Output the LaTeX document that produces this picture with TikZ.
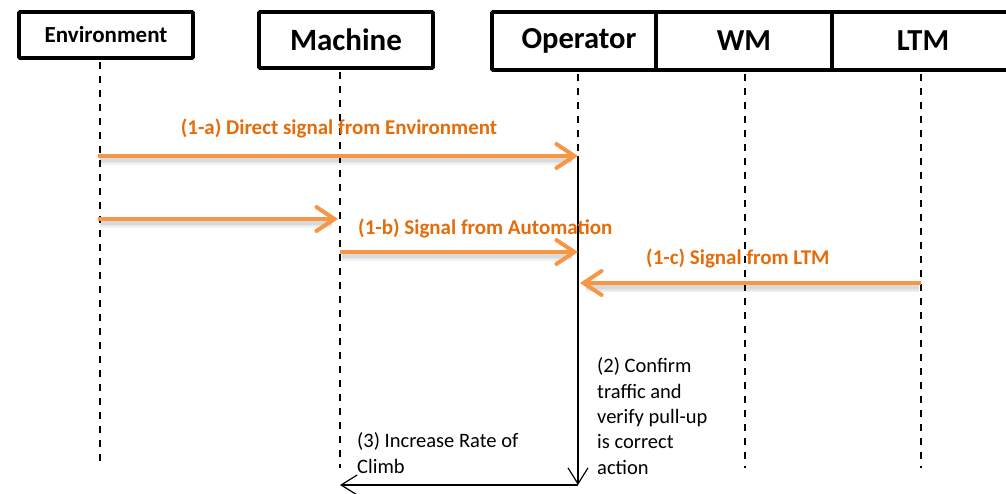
\documentclass[tikz,border=0pt]{standalone}
\usepackage{fontspec}
\setmainfont{Carlito}
\usetikzlibrary{arrows.meta}
\definecolor{sigline}{HTML}{F79646}
\definecolor{sigtext}{HTML}{E46C0A}
\begin{document}
\begin{tikzpicture}[x=1pt,y=-1pt,
  actor/.style={draw=black,line width=3.6pt,rounded corners=1pt,inner sep=0pt,font=\bfseries\fontsize{30.5}{34}\selectfont},
  lifeline/.style={draw=black,line width=1.6pt,dash pattern=on 7pt off 7pt},
  signal/.style={draw=sigline,line width=4pt,-{Straight Barb[length=18pt,width=24pt,line cap=round]}},
  shade/.style={draw=black,opacity=0.05,line width=#1},
  siglabel/.style={text=sigtext,font=\bfseries\fontsize{21}{25}\selectfont,inner sep=0pt},
  note/.style={font=\fontsize{20.5}{25.3}\selectfont,align=left,inner sep=0pt},
  reply/.style={draw=black,line width=1.5pt,-{Straight Barb[length=16pt,width=20pt,line width=1.2pt]}}]
\useasboundingbox (0,0) rectangle (1006,494);

% actor boxes
\node[actor,minimum width=174pt,minimum height=46pt,font=\bfseries\fontsize{23}{27}\selectfont] (env) at (106,35) {Environment};
\node[actor,minimum width=174pt,minimum height=56pt,font=\bfseries\fontsize{31}{34}\selectfont] (mach) at (346,40) {Machine};
\node[actor,minimum width=164pt,minimum height=58pt] (op) at (574,41) {\hspace{10pt}Operator};
\node[actor,minimum width=176pt,minimum height=58pt] (wm) at (744,41) {WM};
\node[actor,minimum width=182pt,minimum height=58pt] (ltm) at (923,41) {LTM};

% lifeline ends
\coordinate (envT) at (100,62);  \coordinate (envB) at (100,468);
\coordinate (machT) at (340,72); \coordinate (machB) at (340,468);
\coordinate (opT) at (578,74);   \coordinate (opB) at (578,468);
\coordinate (wmT) at (745,74);   \coordinate (wmB) at (745,468);
\coordinate (ltmT) at (921,74);  \coordinate (ltmB) at (921,468);

\draw[lifeline] (envT) -- (envB);
\draw[lifeline] (machT) -- (machB);
\draw[lifeline] (opT) -- (opB);
\draw[lifeline] (wmT) -- (wmB);
\draw[lifeline] (ltmT) -- (ltmB);

% signal anchor points on lifelines
\coordinate (aS) at (98,156);  \coordinate (aE) at (578,156);
\coordinate (b1S) at (98,219); \coordinate (b1E) at (338,219);
\coordinate (b2S) at (340,252); \coordinate (b2E) at (578,252);
\coordinate (cS) at (921,283); \coordinate (cE) at (580,283);
\coordinate (opLow) at (578,485); \coordinate (machLow) at (340,485);

% soft shadows under the signals
\foreach \w in {10pt,7pt,4pt}{
  \draw[shade=\w] ([shift={(2,4)}]aS) -- ([shift={(-6,4)}]aE);
  \draw[shade=\w] ([shift={(2,4)}]b1S) -- ([shift={(-6,4)}]b1E);
  \draw[shade=\w] ([shift={(2,4)}]b2S) -- ([shift={(-6,4)}]b2E);
  \draw[shade=\w] ([shift={(-2,4)}]cS) -- ([shift={(6,4)}]cE);
}

% operator activity and response
\draw[reply] (aE) -- (opLow);
\draw[reply] (opLow) -- (machLow);

% signals
\draw[signal] (aS) -- (aE);
\draw[signal] (b1S) -- (b1E);
\draw[signal] (b2S) -- (b2E);
\draw[signal] (cS) -- (cE);

% labels
\node[siglabel] (la) at (339,128) {(1-a) Direct signal from Environment};
\node[siglabel,anchor=west] (lb) at (358,228) {(1-b) Signal from Automation};
\node[siglabel,anchor=west] (lc) at (646,258) {(1-c) Signal from LTM};
\node[note,anchor=west] (n2) at (597,416) {(2) Confirm\\traffic and\\verify pull-up\\is correct\\action};
\node[note,anchor=west] (n3) at (357,453) {(3) Increase Rate of\\Climb};
\end{tikzpicture}
\end{document}
